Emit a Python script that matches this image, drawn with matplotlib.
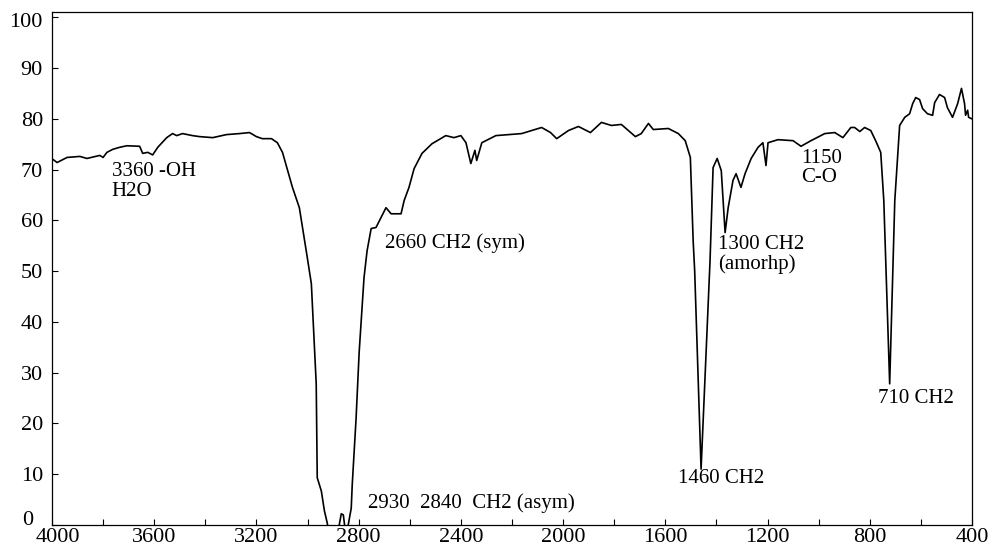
import matplotlib
matplotlib.use('Agg')
import matplotlib.pyplot as plt
from matplotlib.ticker import MultipleLocator, FuncFormatter

plt.rcParams['font.family'] = ['Liberation Serif', 'DejaVu Serif']

# FTIR spectrum: wavenumber (cm-1) and transmittance (%)
wavenumber = [4000, 3996, 3980, 3941, 3891, 3863, 3813, 3800, 3785, 3762, 3735, 3707,
              3657, 3645, 3625, 3606, 3586, 3551, 3528, 3512, 3489, 3450, 3422, 3371,
              3317, 3266, 3227, 3200, 3177, 3141, 3118, 3098, 3059, 3032, 3001, 2985,
              2966, 2962, 2946, 2934, 2923, 2910, 2885, 2876, 2868, 2860, 2855, 2848,
              2840, 2829, 2825, 2810, 2798, 2779, 2767, 2751, 2732, 2712, 2693, 2673,
              2650, 2634, 2622, 2603, 2583, 2552, 2513, 2459, 2427, 2400, 2380, 2361,
              2345, 2338, 2318, 2263, 2162, 2084, 2049, 2025, 1979, 1940, 1893, 1850,
              1811, 1772, 1717, 1694, 1666, 1647, 1588, 1549, 1522, 1502, 1491, 1485,
              1460, 1425, 1413, 1397, 1381, 1366, 1354, 1335, 1323, 1304, 1288, 1264,
              1237, 1218, 1206, 1198, 1159, 1100, 1069, 1030, 976, 937, 905, 874,
              859, 839, 820, 796, 777, 757, 745, 722, 702, 683, 663, 644,
              632, 620, 605, 593, 574, 554, 546, 527, 507, 496, 476, 456,
              441, 429, 425, 417, 413, 400]
transmittance = [71.8, 72.0, 71.4, 72.4, 72.6, 72.2, 72.8, 72.4, 73.4, 74.0, 74.4, 74.7,
                 74.6, 73.2, 73.4, 72.9, 74.4, 76.3, 77.1, 76.7, 77.1, 76.7, 76.5, 76.3,
                 76.9, 77.1, 77.3, 76.5, 76.1, 76.1, 75.3, 73.4, 66.5, 62.5, 52.7, 47.5,
                 27.8, 9.3, 6.7, 2.8, 0.4, -3.0, -3.0, 0.0, 2.2, 2.0, 0.0, -2.0,
                 0.2, 3.3, 8.0, 21.0, 34.0, 48.7, 54.0, 58.4, 58.6, 60.6, 62.5, 61.3,
                 61.3, 61.3, 63.9, 66.5, 70.2, 73.2, 75.1, 76.7, 76.3, 76.7, 75.3, 71.2,
                 73.8, 71.8, 75.3, 76.7, 77.1, 78.3, 77.3, 76.1, 77.7, 78.5, 77.3, 79.3,
                 78.7, 78.9, 76.5, 77.1, 79.1, 77.9, 78.1, 77.1, 75.7, 72.4, 56.0, 50.0,
                 11.0, 52.0, 70.4, 72.2, 69.8, 57.6, 62.5, 67.9, 69.2, 66.5, 69.2, 72.2,
                 74.4, 75.3, 70.8, 75.3, 75.9, 75.7, 74.6, 75.7, 77.1, 77.3, 76.3, 78.3,
                 78.3, 77.5, 78.3, 77.7, 75.7, 73.4, 63.9, 27.8, 63.9, 78.7, 80.3, 81.0,
                 83.0, 84.2, 83.8, 82.0, 81.0, 80.7, 83.2, 84.8, 84.2, 82.2, 80.3, 83.0,
                 86.0, 83.0, 80.7, 81.7, 80.3, 80.0]

# peak labels: (text, x, y)
labels = [
    ('3360 -OH\nH2O', 3766, 67.7),
    ('2660 CH2 (sym)', 2697, 55.6),
    ('2930  2840  CH2 (asym)', 2763, 4.3),
    ('1460 CH2', 1549, 9.1),
    ('1300 CH2\n(amorhp)', 1393, 53.3),
    ('1150\nC-O', 1069, 70.3),
    ('710 CH2', 769, 25.0),
]

fig = plt.figure(figsize=(9.92, 5.57), dpi=100)
ax = fig.add_axes([0.0524, 0.0575, 0.9274, 0.9205])

ax.plot(wavenumber, transmittance, color='black', linewidth=1.2)

for text, x, y in labels:
    ax.text(x, y, text, fontsize=15, ha='left', va='center', linespacing=1.05)

ax.set_xlim(4000, 400)
ax.set_ylim(0, 101)
ax.xaxis.set_major_locator(MultipleLocator(200))
# corner labels (4000, 0, 100) are drawn separately below, slightly offset as in the original
ax.xaxis.set_major_formatter(FuncFormatter(
    lambda v, p: f'{int(round(v))}' if int(round(v)) % 400 == 0 and int(round(v)) != 4000 else ''))
ax.yaxis.set_major_locator(MultipleLocator(10))
ax.yaxis.set_major_formatter(FuncFormatter(
    lambda v, p: '' if int(round(v)) in (0, 100) else f'{int(round(v))}'))
ax.tick_params(direction='in', length=4, width=0.8, labelsize=16)
ax.tick_params(axis='x', pad=2.2)
ax.tick_params(axis='y', pad=6.5)
for s in ax.spines.values():
    s.set_linewidth(0.9)

ax.annotate('4000', xy=(4000, 0), xycoords=('data', 'axes fraction'),
            xytext=(4.3, -2.2), textcoords='offset points', ha='center', va='top', fontsize=16)
ax.annotate('0', xy=(0, 0), xycoords=('axes fraction', 'data'),
            xytext=(-13.7, 2.9), textcoords='offset points', ha='right', va='center', fontsize=16)
ax.annotate('100', xy=(0, 100), xycoords=('axes fraction', 'data'),
            xytext=(-6.5, -3.6), textcoords='offset points', ha='right', va='center', fontsize=16)

fig.savefig('out.png', dpi=100)
